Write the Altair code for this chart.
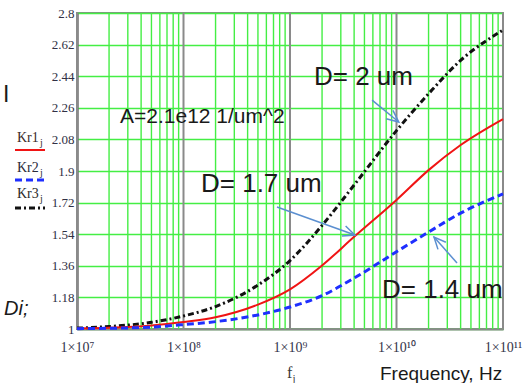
import math
import altair as alt
import pandas as pd

# Frequency sweep (Hz) and the three ratio curves
freq_hz = [1e7, 2e7, 5e7, 1e8, 2e8, 5e8, 1e9, 2e9, 4e9, 1e10, 2e10, 4e10, 1e11]
kr1 = [1.003, 1.007, 1.020, 1.040, 1.067, 1.139, 1.226, 1.362, 1.525, 1.735, 1.905, 2.048, 2.196]
kr2 = [1.002, 1.004, 1.011, 1.025, 1.042, 1.080, 1.125, 1.190, 1.290, 1.440, 1.552, 1.660, 1.770]
kr3 = [1.005, 1.014, 1.038, 1.074, 1.128, 1.250, 1.390, 1.590, 1.820, 2.130, 2.340, 2.530, 2.703]

# Axis ticks
y_ticks = [1.0, 1.18, 1.36, 1.54, 1.72, 1.9, 2.08, 2.26, 2.44, 2.62, 2.8]
decades = [1e7, 1e8, 1e9, 1e10, 1e11]
x_tick_labels = ["1×10⁷", "1×10⁸", "1×10⁹", "1×10¹⁰", "1×10¹¹"]
minor_multipliers = [2, 3, 4, 5, 6, 7, 8, 9]

# Annotation arrows: (label, start freq, start value, end freq, end value)
arrow_label = ["D= 2 um", "D= 1.7 um", "D= 1.4 um"]
arrow_f0 = [5.9e9, 7.55e8, 3.7e10]
arrow_v0 = [2.304, 1.695, 1.376]
arrow_f1 = [1.05e10, 4.07e9, 2.25e10]
arrow_v1 = [2.179, 1.535, 1.524]

GREEN = "#44ee44"
GREY = "#8a8a8a"
ARROW = "#5b8fd0"
SERIF = "Liberation Serif"
SANS = "Liberation Sans"

x_scale = alt.Scale(type="log", domain=[1e7, 1e11], nice=False)
y_scale = alt.Scale(domain=[1.0, 2.8], nice=False, zero=False)

exps = [round(math.log10(d)) for d in decades]
label_expr = " : ".join(
    f"round(log(datum.value) / LN10) == {e} ? '{lab}'" for e, lab in zip(exps, x_tick_labels)
) + " : ''"

curves = pd.DataFrame({"f": freq_hz, "kr1": kr1, "kr2": kr2, "kr3": kr3})
minor_df = pd.DataFrame({"f": [m * d for d in decades[:-1] for m in minor_multipliers]})
decade_df = pd.DataFrame({"f": decades})
arrows_df = pd.DataFrame({"label": arrow_label, "f0": arrow_f0, "v0": arrow_v0,
                          "f1": arrow_f1, "v1": arrow_v1})
one = pd.DataFrame({"k": [0]})

x_axis = alt.Axis(values=decades, labelExpr=label_expr, labelFont=SERIF, labelFontSize=14,
                  labelColor="#34344a", labelPadding=11, ticks=False, grid=False,
                  domainColor=GREY, domainWidth=2, title=None, labelFlush=False)
y_axis = alt.Axis(values=y_ticks, format=".2~f", labelFont=SERIF, labelFontSize=13,
                  labelColor="#303044", labelPadding=3, ticks=False, grid=True,
                  gridColor=GREEN, gridWidth=1.5, domainColor="#707070", domainWidth=2.5,
                  title=None)


def X(field):
    return alt.X(f"{field}:Q", scale=x_scale, axis=x_axis)


def Y(field):
    return alt.Y(f"{field}:Q", scale=y_scale, axis=y_axis)


minor_grid = alt.Chart(minor_df).mark_rule(color=GREEN, strokeWidth=1.4).encode(x=X("f"))
decade_grid = alt.Chart(decade_df).mark_rule(color=GREY, strokeWidth=2).encode(x=X("f"))


def curve(col, color, width, dash=None):
    kw = dict(color=color, strokeWidth=width, interpolate="monotone")
    if dash:
        kw["strokeDash"] = dash
    return alt.Chart(curves).mark_line(**kw).encode(x=X("f"), y=Y(col))


line3 = curve("kr3", "#111111", 3, [6, 3, 2, 3])
line1 = curve("kr1", "#f01414", 2)
line2 = curve("kr2", "#1f2fff", 3, [7, 4])

shafts = alt.Chart(arrows_df).mark_rule(color=ARROW, strokeWidth=1.5).encode(
    x=X("f0"), y=Y("v0"), x2="f1:Q", y2="v1:Q"
)


def head(label, angle):
    return alt.Chart(arrows_df).transform_filter(
        alt.datum.label == label
    ).mark_point(shape="M-1,-0.45L0,0L-1,0.45", size=560, angle=angle, filled=False,
                 color=ARROW, strokeWidth=1.5, opacity=1).encode(x=X("f1"), y=Y("v1"))


heads = [head("D= 2 um", 39), head("D= 1.7 um", 20), head("D= 1.4 um", 228)]


def label(text, x, y, size, font=SANS, color="#1a1a1a", style="normal"):
    return alt.Chart(one).mark_text(
        text=text, font=font, fontSize=size, color=color, fontStyle=style,
        align="left", baseline="alphabetic"
    ).encode(x=alt.value(x), y=alt.value(y))


def swatch(y, color, width, dash=None):
    kw = dict(color=color, strokeWidth=width)
    if dash:
        kw["strokeDash"] = dash
    return alt.Chart(one).mark_rule(**kw).encode(
        x=alt.value(-62), x2=alt.value(-32), y=alt.value(y)
    )


texts = [
    label("A=2.1e12 1/um^2", 43, 110, 21),
    label("D= 2 um", 237, 72, 26),
    label("D= 1.7 um", 124, 179, 26),
    label("D= 1.4 um", 305, 285, 26),
    label("Kr1", -60, 129, 14, SERIF, "#3a2a2a"),
    label("j", -37, 133, 10, SERIF, "#3a2a2a"),
    label("Kr2", -60, 159, 14, SERIF, "#2a2a3a"),
    label("j", -37, 163, 10, SERIF, "#2a2a3a"),
    label("Kr3", -60, 185, 14, SERIF, "#2a2a2a"),
    label("j", -37, 189, 10, SERIF, "#2a2a2a"),
    label("I", -74, 89, 23),
    label("Di;", -73, 302, 20, style="italic"),
    label("f", 210, 365, 16, SERIF, "#3a3a3a"),
    label("j", 215.5, 369, 11, SERIF, "#3a3a3a"),
    label("Frequency, Hz", 303, 367, 19),
]

swatches = [
    swatch(137, "#f01414", 2),
    swatch(167, "#1f2fff", 3, [7, 4]),
    swatch(195, "#111111", 3, [6, 3, 2, 3]),
]

chart = alt.layer(
    minor_grid, decade_grid, line3, line1, line2, shafts, *heads, *texts, *swatches
).properties(
    width=426,
    height=316,
    autosize=alt.AutoSizeParams(type="none"),
    padding={"left": 77, "top": 13, "right": 25, "bottom": 54},
    background="white",
).configure_view(stroke=GREY, strokeWidth=2)

chart.save("out.html", embed_options={"renderer": "svg", "actions": False})
